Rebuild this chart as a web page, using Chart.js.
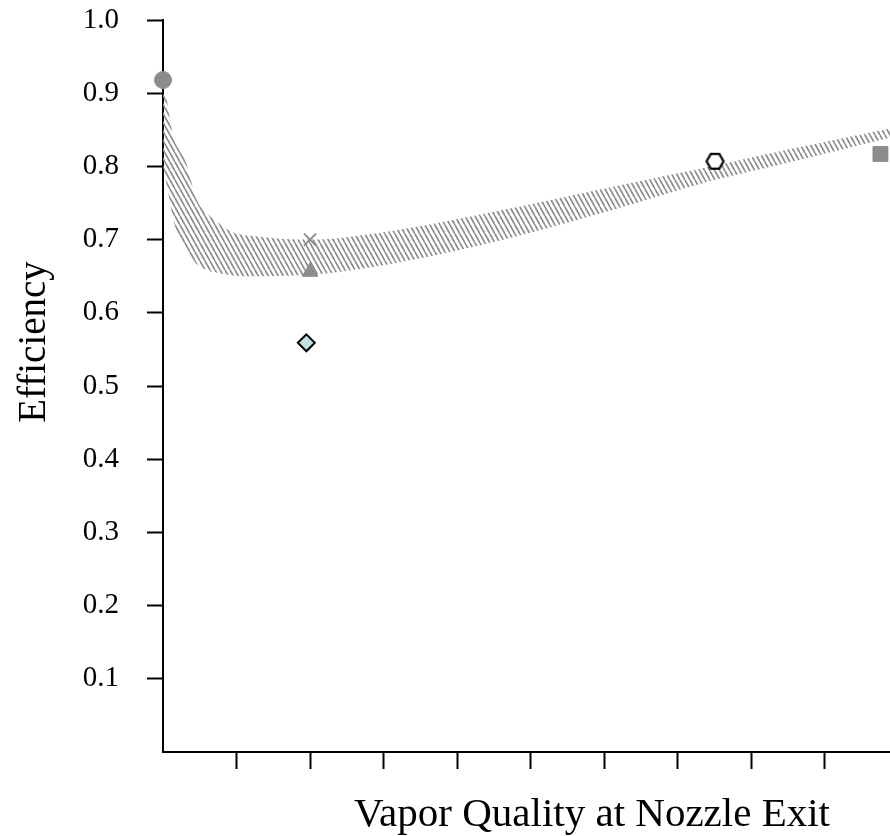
<!DOCTYPE html>
<html>
<head>
<meta charset="utf-8">
<script src="https://cdn.jsdelivr.net/npm/chart.js@4/dist/chart.umd.min.js"></script>
<style>
  html, body { margin: 0; padding: 0; background: #fff; }
  #wrap { width: 890px; height: 836px; }
</style>
</head>
<body>
<div id="wrap"><canvas id="effChart"></canvas></div>
<script>
// band of predicted efficiency (upper / lower edges)
const bandUpperX = [0, 0.003, 0.014, 0.03, 0.046, 0.06, 0.075, 0.095, 0.132, 0.2, 0.3, 0.46, 0.61, 0.745, 0.85, 1.0];
const bandUpperY = [0.905, 0.90, 0.841, 0.809, 0.754, 0.736, 0.723, 0.71, 0.704, 0.70, 0.71, 0.740, 0.772, 0.800, 0.823, 0.854];
const bandLowerX = [0, 0.008, 0.014, 0.023, 0.037, 0.054, 0.078, 0.109, 0.2, 0.3, 0.46, 0.61, 0.745, 0.85, 1.0];
const bandLowerY = [0.80, 0.76, 0.727, 0.70, 0.676, 0.661, 0.654, 0.65, 0.652, 0.665, 0.699, 0.740, 0.780, 0.805, 0.842];

// measured points
const circlePt = [0.0, 0.918];
const crossPt = [0.2, 0.70];
const trianglePt = [0.2, 0.656];
const diamondPt = [0.195, 0.559];
const hexagonPt = [0.751, 0.807];
const squarePt = [0.976, 0.817];

const xTicks = [0.1, 0.2, 0.3, 0.4, 0.5, 0.6, 0.7, 0.8, 0.9];
const yTicks = [0.1, 0.2, 0.3, 0.4, 0.5, 0.6, 0.7, 0.8, 0.9, 1.0];

const toPts = (xs, ys) => xs.map((x, i) => ({ x: x, y: ys[i] }));

// diagonal hatch for the band
function hatchPattern() {
  const c = document.createElement('canvas');
  c.width = 5; c.height = 9;
  const g = c.getContext('2d');
  g.strokeStyle = '#8a8a8a';
  g.lineWidth = 1.6;
  for (const dx of [-5, 0, 5]) {
    g.beginPath();
    g.moveTo(dx, 0);
    g.lineTo(dx + 5, 9);
    g.stroke();
  }
  return g.createPattern(c, 'repeat');
}

function hexagonMarker() {
  const c = document.createElement('canvas');
  c.width = 21; c.height = 21;
  const g = c.getContext('2d');
  g.beginPath();
  for (let k = 0; k < 6; k++) {
    const a = Math.PI / 3 * k;
    const px = 10.5 + 8.5 * Math.cos(a), py = 10.5 + 8.5 * Math.sin(a);
    k === 0 ? g.moveTo(px, py) : g.lineTo(px, py);
  }
  g.closePath();
  g.fillStyle = '#fff';
  g.fill();
  g.lineWidth = 2.2;
  g.strokeStyle = '#000';
  g.stroke();
  return c;
}

const serif = '"Liberation Serif", "DejaVu Serif", serif';

const axisTitles = {
  id: 'axisTitles',
  afterDraw(chart) {
    const ctx = chart.ctx;
    ctx.save();
    ctx.fillStyle = '#000';
    ctx.font = '41px ' + serif;
    ctx.textAlign = 'center';
    ctx.textBaseline = 'alphabetic';
    ctx.fillText('Vapor Quality at Nozzle Exit', 592, 826);
    ctx.translate(45, 342);
    ctx.rotate(-Math.PI / 2);
    ctx.font = '39px ' + serif;
    ctx.fillText('Efficiency', 0, 0);
    ctx.restore();
  }
};

const marker = (pt, style, radius, fill, border, bw) => ({
  type: 'scatter',
  data: [{ x: pt[0], y: pt[1] }],
  pointStyle: style,
  pointRadius: radius,
  pointHoverRadius: radius,
  backgroundColor: fill,
  borderColor: border,
  pointBorderWidth: bw,
  clip: false,
  order: 0
});

new Chart(document.getElementById('effChart'), {
  type: 'scatter',
  data: {
    datasets: [
      {
        type: 'line',
        data: toPts(bandUpperX, bandUpperY),
        borderWidth: 0,
        pointRadius: 0,
        cubicInterpolationMode: 'monotone',
        fill: '+1',
        backgroundColor: hatchPattern(),
        order: 10
      },
      {
        type: 'line',
        data: toPts(bandLowerX, bandLowerY),
        borderWidth: 0,
        pointRadius: 0,
        cubicInterpolationMode: 'monotone',
        fill: false,
        order: 10
      },
      marker(circlePt, 'circle', 8.5, '#8c8c8c', '#8c8c8c', 1),
      marker(crossPt, 'crossRot', 8.5, '#8c8c8c', '#8c8c8c', 2),
      marker(trianglePt, 'triangle', 9, '#8c8c8c', '#8c8c8c', 1),
      marker(diamondPt, 'rectRot', 8.5, '#bfe3e3', '#000', 2),
      marker(hexagonPt, hexagonMarker(), 10, '#fff', '#000', 2),
      marker(squarePt, 'rect', 10.5, '#8c8c8c', '#8c8c8c', 1)
    ]
  },
  options: {
    responsive: true,
    maintainAspectRatio: false,
    animation: false,
    layout: { autoPadding: false, padding: { top: 20, right: 0, bottom: 0, left: 0 } },
    plugins: {
      legend: { display: false },
      tooltip: { enabled: false }
    },
    scales: {
      x: {
        type: 'linear',
        min: 0,
        max: 0.989,
        afterBuildTicks: (s) => { s.ticks = xTicks.map(v => ({ value: v })); },
        afterFit: (s) => { s.height = 84; s.paddingLeft = 0; s.paddingRight = 0; },
        ticks: { display: false },
        grid: {
          drawOnChartArea: false,
          tickLength: 17,
          tickColor: '#000',
          tickWidth: 2
        },
        border: { display: true, color: '#000', width: 2 }
      },
      y: {
        min: 0,
        max: 1.0,
        afterBuildTicks: (s) => { s.ticks = yTicks.map(v => ({ value: v })); },
        afterFit: (s) => { s.width = 163; s.paddingTop = 0; s.paddingBottom = 0; },
        ticks: {
          color: '#000',
          padding: 28,
          font: { family: serif, size: 29 },
          callback: (v) => v.toFixed(1)
        },
        grid: {
          drawOnChartArea: false,
          tickLength: 16,
          tickColor: '#000',
          tickWidth: 2
        },
        border: { display: true, color: '#000', width: 2 }
      }
    }
  },
  plugins: [axisTitles]
});
</script>
</body>
</html>
